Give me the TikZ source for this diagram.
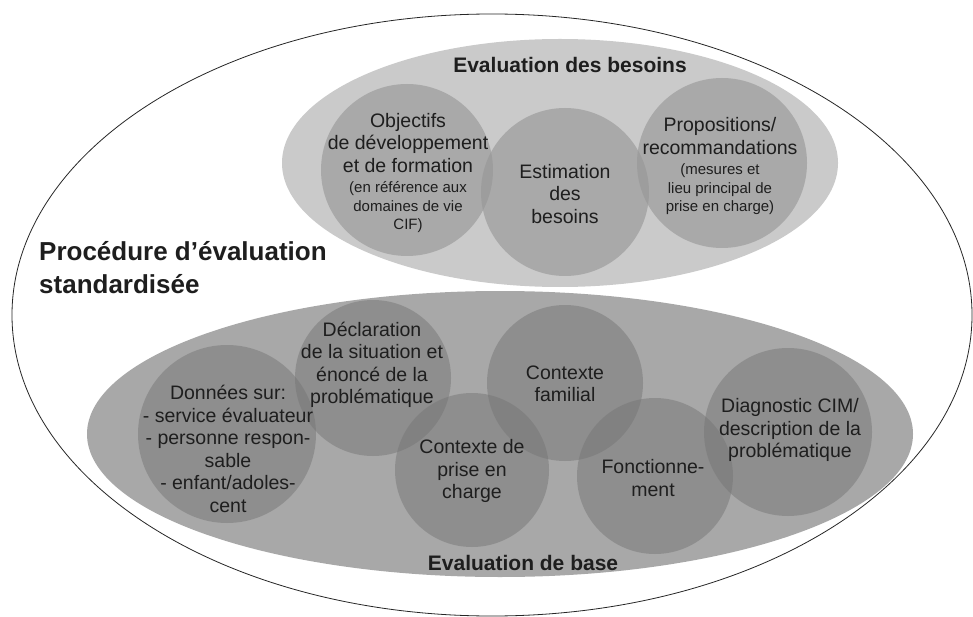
\documentclass[tikz,border=0pt]{standalone}
\usepackage{fontspec}
\setmainfont{Liberation Sans}
\usetikzlibrary{shapes.geometric}
\definecolor{upbase}{RGB}{202,202,202}
\definecolor{upcirc}{RGB}{150,150,150}
\definecolor{lowbase}{RGB}{168,168,168}
\definecolor{lowcirc}{RGB}{118,118,118}
\definecolor{ink}{RGB}{30,30,30}
\newcommand\smtxt{\fontsize{15}{18.5}\selectfont}
\tikzset{
  bigell/.style={ellipse, draw=none, inner sep=0pt},
  upbub/.style={circle, inner sep=0pt, fill=upcirc, fill opacity=0.62, minimum size=#1},
  lowbub/.style={circle, inner sep=0pt, fill=lowcirc, fill opacity=0.5, minimum size=#1},
  lbl/.style={align=center, font=\fontsize{19.5}{22.5}\selectfont, text=ink, inner sep=0pt},
  ttl/.style={font=\bfseries\fontsize{21}{25}\selectfont, text=ink, inner sep=0pt},
}
\begin{document}
\begin{tikzpicture}[x=1pt,y=-1pt]
\useasboundingbox (0,0) rectangle (973,617);
\fill[white] (0,0) rectangle (973,617);
% outer ellipse
\node[bigell, draw=black!85, line width=0.8pt, fill=white, minimum width=960pt, minimum height=602pt] (outer) at (492,315) {};
% upper and lower ellipses
\node[bigell, fill=upbase, minimum width=556pt, minimum height=248pt] (needs) at (560,163) {};
\node[bigell, fill=lowbase, minimum width=826pt, minimum height=286pt] (base) at (500,434) {};
% upper circles
\node[upbub=172pt] (obj) at (407,170) {};
\node[upbub=168pt] (est) at (565,192) {};
\node[upbub=170pt] (prop) at (722,163) {};
% lower circles
\node[lowbub=178pt] (don) at (227,434) {};
\node[lowbub=156pt] (decl) at (373,378) {};
\node[lowbub=154pt] (cpc) at (472,470) {};
\node[lowbub=156pt] (cfam) at (565,383) {};
\node[lowbub=156pt] (fonc) at (655,476) {};
\node[lowbub=168pt] (diag) at (788,432) {};
% titles
\node[ttl] (tneeds) at (570,65) {Evaluation des besoins};
\node[ttl] (tbase) at (523,563) {Evaluation de base};
\node[align=left, anchor=west, font=\bfseries\fontsize{26}{33}\selectfont, text=ink, inner sep=0pt] (tproc) at (39,268) {Procédure d’évaluation\\standardisée};
% circle texts
\node[lbl] (tobj) at (408,173) {Objectifs\\de développement\\et de formation\\[-2pt]\smtxt(en référence aux\\[-4pt]\smtxt domaines de vie\\[-4pt]\smtxt CIF)};
\node[lbl] (test) at (565,194) {Estimation\\des\\besoins};
\node[lbl] (tprop) at (720,166) {Propositions/\\recommandations\\[-2pt]\smtxt(mesures et\\[-4pt]\smtxt lieu principal de\\[-4pt]\smtxt prise en charge)};
\node[lbl] (tdon) at (228,449) {Données sur:\\- service évaluateur\\- personne respon-\\sable\\- enfant/adoles-\\cent};
\node[lbl] (tdecl) at (372,365) {Déclaration\\de la situation et\\énoncé de la\\problématique};
\node[lbl] (tcpc) at (472,471) {Contexte de\\prise en\\charge};
\node[lbl] (tcfam) at (565,384) {Contexte\\familial};
\node[lbl] (tfonc) at (653,478) {Fonctionne-\\ment};
\node[lbl] (tdiag) at (790,430) {Diagnostic CIM/\\description de la\\problématique};
\end{tikzpicture}
\end{document}
